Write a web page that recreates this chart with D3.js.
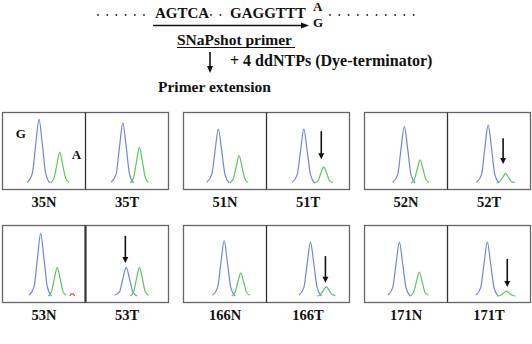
<!DOCTYPE html>
<html>
<head>
<meta charset="utf-8">
<script src="https://cdn.jsdelivr.net/npm/d3@7"></script>
<style>
  body { margin: 0; background: #fff; }
  text { font-family: "Liberation Serif", "Times New Roman", serif; font-weight: bold; fill: #111; }
</style>
</head>
<body>
<svg id="chart" width="532" height="344"></svg>
<script>
// sample names, in panel order (N = normal, T = tumour)
const sampleLabels = ["35N", "35T", "51N", "51T", "52N", "52T",
                      "53N", "53T", "166N", "166T", "171N", "171T"];

// G signal (blue trace), [position, intensity] per panel
const gTraces = [
  [[30,1],[36,14],[40,55],[44,91],[48,55],[52,14],[57,0]],
  [[31,1],[37,13],[41,52],[45,86],[49,52],[53,13],[58,0]],
  [[28,1],[34,12],[38,46],[42,77],[46,46],[50,12],[55,0]],
  [[31,1],[37,12],[41,46],[45,77],[49,46],[53,12],[58,0]],
  [[34,1],[40,12],[44,49],[48,81],[52,49],[56,12],[61,0]],
  [[35,1],[41,12],[45,50],[49,83],[53,50],[57,12],[62,0]],
  [[32,1],[38,13],[42,53],[46,89],[50,53],[54,13],[59,0]],
  [[35,1],[41,6],[45,25],[49,41],[53,25],[57,6],[62,0]],
  [[35,1],[41,12],[45,47],[49,79],[53,47],[57,12],[62,0]],
  [[39,1],[45,12],[49,46],[53,77],[57,46],[61,12],[66,0]],
  [[28,1],[34,12],[38,46],[42,77],[46,46],[50,12],[55,0]],
  [[34,1],[40,12],[44,46],[48,77],[52,46],[56,12],[61,0]]
];

// A signal (green trace)
const aTraces = [
  [[58,0],[62,7],[65.5,26],[69,44],[72.5,26],[76,7],[80,1]],
  [[54,0],[58,8],[61.5,31],[65,51],[68.5,31],[72,8],[76,1]],
  [[56,0],[60,6],[63.5,23],[67,39],[70.5,23],[74,6],[78,1]],
  [[58,0],[62,3],[65.5,14],[69,23],[72.5,14],[76,3],[80,1]],
  [[56,0],[60,5],[63.5,20],[67,33],[70.5,20],[74,5],[78,1]],
  [[59,0],[63,2],[66.5,8],[70,14],[73.5,8],[77,2],[81,1]],
  [[55,0],[59,6],[62.5,25],[66,41],[69.5,25],[73,6],[77,1]],
  [[54,0],[58,6],[61.5,25],[65,41],[68.5,25],[72,6],[76,1]],
  [[58,0],[62,5],[65.5,20],[69,33],[72.5,20],[76,5],[80,1]],
  [[61,0],[65,2],[68.5,8],[72,13],[75.5,8],[79,2],[83,1]],
  [[55,0],[59,5],[62.5,20],[66,34],[69.5,20],[73,5],[77,1]],
  [[60,0],[64,1],[67.5,4],[71,7],[74.5,4],[78,1],[82,0]]
];

// small red blip seen only in 53N
const redTraces = { "53N": [[81,0],[83,3],[85,3],[87,0]] };

// arrows marking allele loss: [position, arrow top, arrow tip]
const lossArrows = {
  "51T": [66, 74, 34],
  "52T": [67, 64, 27],
  "53T": [48, 86, 47],
  "166T": [71, 57, 19],
  "171T": [72, 53, 13]
};

// allele letters on the first panel: [letter, position, intensity]
const alleleTags = [["G", 22, 64], ["A", 89, 34]];

const svg = d3.select("#chart");
svg.append("rect").attr("width", 532).attr("height", 344).attr("fill", "#fff");

// --- HEADER: sequence and primer scheme ---
const head = svg.append("g");
head.append("text").attr("x", 155).attr("y", 18).style("font-size", "15px").text("AGTCA");
head.append("text").attr("x", 230).attr("y", 18).style("font-size", "15px").text("GAGGTTT");
head.append("text").attr("x", 313).attr("y", 10.5).style("font-size", "13px").text("A");
head.append("text").attr("x", 313).attr("y", 27).style("font-size", "13px").text("G");

const dotX = [...d3.range(98, 152, 9.2), 211, 220.5, ...d3.range(330, 418, 9.3)];
head.selectAll("circle.dot").data(dotX).join("circle")
  .attr("class", "dot").attr("cx", d => d).attr("cy", 15).attr("r", 0.9).attr("fill", "#222");

head.append("line").attr("x1", 153).attr("x2", 303).attr("y1", 25.5).attr("y2", 25.5)
  .attr("stroke", "#111").attr("stroke-width", 1.6);
head.append("path").attr("d", "M301,22.5L309,25.5L301,28.5Z").attr("fill", "#111");

head.append("text").attr("x", 177).attr("y", 45).style("font-size", "15.5px").text("SNaPshot primer");
head.append("line").attr("x1", 177).attr("x2", 295).attr("y1", 47.5).attr("y2", 47.5)
  .attr("stroke", "#111").attr("stroke-width", 1);

head.append("line").attr("x1", 210).attr("x2", 210).attr("y1", 52).attr("y2", 67)
  .attr("stroke", "#111").attr("stroke-width", 1.6);
head.append("path").attr("d", "M207,66L210,73L213,66Z").attr("fill", "#111");
head.append("text").attr("x", 230).attr("y", 66).style("font-size", "16px").text("+ 4 ddNTPs (Dye-terminator)");
head.append("text").attr("x", 158).attr("y", 92).style("font-size", "15.5px").text("Primer extension");

// --- PANELS ---
const colX = [2.5, 183.5, 364.5];
const rowY = [112.5, 225.5];
const halfW = 83, boxH = 77;

const line = d3.line().curve(d3.curveMonotoneX);

sampleLabels.forEach((label, i) => {
  const pair = Math.floor(i / 2);
  const row = Math.floor(pair / 3);
  const col = pair % 3;
  const half = i % 2;
  const x0 = colX[col] + half * halfW;
  const top = rowY[row];

  const x = d3.scaleLinear().domain([0, 100]).range([x0, x0 + halfW]);
  const y = d3.scaleLinear().domain([0, 100]).range([top + 70.5, top + 0.5]);
  const g = svg.append("g");

  if (half === 0) {
    svg.append("rect").attr("x", x0).attr("y", top).attr("width", halfW * 2).attr("height", boxH)
      .attr("fill", "none").attr("stroke", "#666").attr("stroke-width", 1.3);
    svg.append("line").attr("x1", x0 + halfW).attr("x2", x0 + halfW).attr("y1", top).attr("y2", top + boxH)
      .attr("stroke", "#333").attr("stroke-width", row === 1 && col === 0 ? 2.2 : 1.3);
  }

  g.append("path").datum(gTraces[i].map(d => [x(d[0]), y(d[1])]))
    .attr("d", line).attr("fill", "none").attr("stroke", "#7285d8").attr("stroke-width", 1.2);
  g.append("path").datum(aTraces[i].map(d => [x(d[0]), y(d[1])]))
    .attr("d", line).attr("fill", "none").attr("stroke", "#5fc55f").attr("stroke-width", 1.2);
  if (redTraces[label]) {
    g.append("path").datum(redTraces[label].map(d => [x(d[0]), y(d[1])]))
      .attr("d", line).attr("fill", "none").attr("stroke", "#e04848").attr("stroke-width", 1.1);
  }

  if (lossArrows[label]) {
    const [ax, ay1, ay2] = lossArrows[label];
    g.append("line").attr("x1", x(ax)).attr("x2", x(ax)).attr("y1", y(ay1)).attr("y2", y(ay2) - 5)
      .attr("stroke", "#111").attr("stroke-width", 1.6);
    g.append("path")
      .attr("d", `M${x(ax) - 3},${y(ay2) - 6}L${x(ax)},${y(ay2)}L${x(ax) + 3},${y(ay2) - 6}Z`)
      .attr("fill", "#111");
  }

  if (i === 0) {
    g.selectAll("text.tag").data(alleleTags).join("text")
      .attr("class", "tag")
      .attr("x", d => x(d[1])).attr("y", d => y(d[2]))
      .attr("text-anchor", "middle").style("font-size", "13px")
      .text(d => d[0]);
  }

  svg.append("text")
    .attr("x", x0 + halfW / 2).attr("y", top + boxH + 17)
    .attr("text-anchor", "middle").style("font-size", "14.5px")
    .text(label);
});
</script>
</body>
</html>
